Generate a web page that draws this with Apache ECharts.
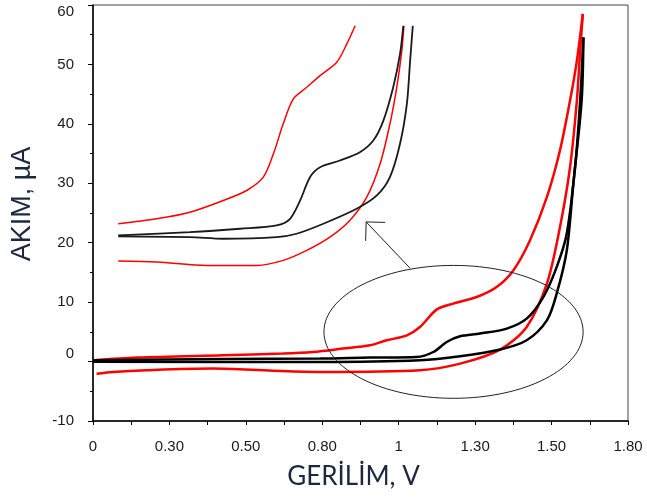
<!DOCTYPE html>
<html>
<head>
<meta charset="utf-8">
<script src="https://cdn.jsdelivr.net/npm/echarts@6/dist/echarts.min.js"></script>
<style>
  html, body { margin: 0; padding: 0; background: #ffffff; }
  #chart { width: 647px; height: 497px; }
</style>
</head>
<body>
<div id="chart"></div>
<script>
// Voltammograms: current (µA) against potential (V)
const xTickLabels = ['0', '0.30', '0.50', '0.80', '1', '1.30', '1.50', '1.80'];

// Full-scale scans (forward and reverse), red and black
const redForward = [
  [0.00, 0.2], [0.147, 0.67], [0.437, 1.06], [0.639, 1.34], [0.740, 1.61], [0.841, 2.18],
  [0.932, 2.74], [0.988, 3.58], [1.056, 4.42], [1.100, 5.82], [1.156, 8.74], [1.212, 9.75],
  [1.291, 10.86], [1.358, 12.54], [1.414, 15.34], [1.470, 20.39], [1.527, 27.66],
  [1.571, 35.51], [1.605, 43.92], [1.628, 50.64], [1.648, 58.5]
];
const redReverse = [
  [1.648, 58.5], [1.639, 52.3], [1.628, 43.9], [1.605, 32.7], [1.571, 22.6], [1.527, 13.1],
  [1.459, 5.82], [1.370, 2.02], [1.235, -0.34], [1.100, -1.46], [0.764, -1.75], [0.606, -1.55],
  [0.404, -1.18], [0.181, -1.46], [0.068, -1.75], [0.012, -2.05]
];
const blackForward = [
  [0.00, 0.22], [0.437, 0.44], [0.764, 0.5], [0.932, 0.67], [1.089, 0.77], [1.145, 1.61],
  [1.190, 3.29], [1.235, 4.25], [1.302, 4.71], [1.392, 5.55], [1.459, 7.23], [1.515, 10.86],
  [1.560, 15.9], [1.594, 21.56], [1.622, 32.7], [1.639, 43.9], [1.650, 54.55]
];
const blackReverse = [
  [1.650, 54.55], [1.644, 43.9], [1.616, 29.9], [1.594, 18.7], [1.560, 11.43], [1.527, 6.94],
  [1.459, 3.58], [1.370, 2.02], [1.235, 0.89], [1.100, 0.22], [0.764, -0.07], [0.00, -0.03]
];

// Enlarged view of the oxidation region, drawn in the upper-left of the plot
const insetRedUpper = [
  [0.085, 23.19], [0.214, 24.03], [0.326, 25.14], [0.438, 27.11], [0.517, 28.79], [0.573, 31.03],
  [0.607, 34.96], [0.640, 40.0], [0.674, 44.2], [0.719, 46.15], [0.764, 48.12], [0.820, 50.35],
  [0.854, 53.45], [0.882, 56.5]
];
const insetRedLower = [
  [0.085, 16.91], [0.214, 16.74], [0.383, 16.18], [0.551, 16.18], [0.640, 17.03], [0.719, 18.71],
  [0.797, 20.94], [0.864, 23.75], [0.921, 27.66], [0.966, 33.28], [0.999, 40.0], [1.022, 46.15],
  [1.039, 52.32], [1.046, 56.5]
];
const insetBlackUpper = [
  [0.085, 21.23], [0.326, 21.78], [0.495, 22.35], [0.618, 22.91], [0.663, 24.03], [0.697, 27.11],
  [0.730, 31.03], [0.764, 32.71], [0.831, 33.83], [0.898, 35.23], [0.943, 37.19], [0.977, 40.55],
  [1.010, 46.15], [1.033, 51.76], [1.044, 56.5]
];
const insetBlackLower = [
  [0.085, 21.06], [0.326, 20.94], [0.438, 20.67], [0.618, 20.94], [0.685, 21.51], [0.775, 23.19],
  [0.887, 25.71], [0.955, 27.95], [0.999, 31.03], [1.033, 36.64], [1.056, 43.36], [1.067, 50.64],
  [1.076, 56.5]
];

// Callout: ellipse around the oxidation wave and an arrow pointing to the enlarged view (data units)
const calloutCenter = [1.213, 5.0];
const calloutRadius = [0.436, 11.18];
const arrowTail = [1.067, 15.7];
const arrowTip = [0.919, 23.5];

const X_MAX = 1.8;
const X_STEP = X_MAX / 7;

const chart = echarts.init(document.getElementById('chart'), null, { renderer: 'canvas' });

function lineSeries(data, color, width) {
  return {
    type: 'line',
    data: data,
    showSymbol: false,
    symbol: 'none',
    smooth: 0.3,
    lineStyle: { color: color, width: width },
    silent: true,
    animation: false
  };
}

const tickFont = { fontFamily: 'Liberation Sans, Arial, sans-serif', fontSize: 15, color: '#1a1a1a' };

chart.setOption({
  animation: false,
  backgroundColor: '#ffffff',
  grid: {
    left: 93, right: 19, top: 5, bottom: 76,
    show: true, borderColor: '#444', borderWidth: 1
  },
  xAxis: {
    type: 'value',
    min: 0,
    max: X_MAX,
    interval: X_STEP,
    name: 'GERİLİM, V',
    nameLocation: 'middle',
    nameGap: 43,
    nameTextStyle: {
      fontFamily: 'Lato, "Open Sans", sans-serif', fontSize: 26, color: '#1c2840',
      padding: [0, 14, 0, 0]
    },
    axisLine: { onZero: false, lineStyle: { color: '#000', width: 1.5 } },
    axisTick: { show: true, inside: false, length: 4, lineStyle: { color: '#000', width: 1 } },
    minorTick: { show: true, splitNumber: 2, length: 4, lineStyle: { color: '#000', width: 1 } },
    splitLine: { show: false },
    axisLabel: Object.assign({
      margin: 18,
      formatter: function (v) {
        const i = Math.round(v / X_STEP);
        return xTickLabels[i] !== undefined ? xTickLabels[i] : '';
      }
    }, tickFont)
  },
  yAxis: {
    type: 'value',
    min: -10,
    max: 60,
    interval: 10,
    name: 'AKIM, µA',
    nameLocation: 'middle',
    nameRotate: 90,
    nameGap: 57,
    nameTextStyle: {
      fontFamily: 'Liberation Sans, Arial, sans-serif', fontSize: 27, color: '#1c2840',
      padding: [0, 0, 0, 18]
    },
    axisLine: { onZero: false, lineStyle: { color: '#000', width: 1.5 } },
    axisTick: { show: true, inside: false, length: 5, lineStyle: { color: '#000', width: 1 } },
    minorTick: { show: true, splitNumber: 2, length: 3, lineStyle: { color: '#000', width: 1 } },
    splitLine: { show: false },
    axisLabel: Object.assign({
      margin: 19,
      formatter: function (v) {
        if (v === 60) return '{low|60}';
        if (v === 0) return '{high|0}';
        return String(v);
      },
      rich: {
        low: Object.assign({ padding: [14, 0, 0, 0] }, tickFont),
        high: Object.assign({ padding: [0, 0, 16, 0] }, tickFont)
      }
    }, tickFont)
  },
  series: [
    lineSeries(redForward, '#ff0000', 2.5),
    lineSeries(redReverse, '#ff0000', 2.5),
    lineSeries(blackForward, '#000000', 2.5),
    lineSeries(blackReverse, '#000000', 2.5),
    lineSeries(insetRedUpper, '#ff0000', 1.5),
    lineSeries(insetRedLower, '#ff0000', 1.5),
    lineSeries(insetBlackUpper, '#1a1a1a', 1.8),
    lineSeries(insetBlackLower, '#1a1a1a', 1.8)
  ]
});

// Callout shapes placed through the axes' own conversion
function drawCallout() {
  const c = chart.convertToPixel({ gridIndex: 0 }, calloutCenter);
  const edge = chart.convertToPixel({ gridIndex: 0 },
    [calloutCenter[0] + calloutRadius[0], calloutCenter[1] + calloutRadius[1]]);
  const rx = Math.abs(edge[0] - c[0]);
  const ry = Math.abs(edge[1] - c[1]);
  const tail = chart.convertToPixel({ gridIndex: 0 }, arrowTail);
  const tip = chart.convertToPixel({ gridIndex: 0 }, arrowTip);
  const ang = Math.atan2(tail[1] - tip[1], tail[0] - tip[0]);
  const head = 19, spread = Math.PI / 4;
  const w1 = [tip[0] + head * Math.cos(ang - spread), tip[1] + head * Math.sin(ang - spread)];
  const w2 = [tip[0] + head * Math.cos(ang + spread), tip[1] + head * Math.sin(ang + spread)];
  chart.setOption({
    graphic: [
      {
        type: 'ellipse', silent: true, z: 50,
        shape: { cx: c[0], cy: c[1], rx: rx, ry: ry },
        style: { fill: null, stroke: '#222', lineWidth: 1 }
      },
      {
        type: 'polyline', silent: true, z: 50,
        shape: { points: [tail, tip] },
        style: { fill: null, stroke: '#222', lineWidth: 1 }
      },
      {
        type: 'polyline', silent: true, z: 50,
        shape: { points: [w1, tip, w2] },
        style: { fill: null, stroke: '#222', lineWidth: 1 }
      }
    ]
  });
}
drawCallout();
</script>
</body>
</html>
